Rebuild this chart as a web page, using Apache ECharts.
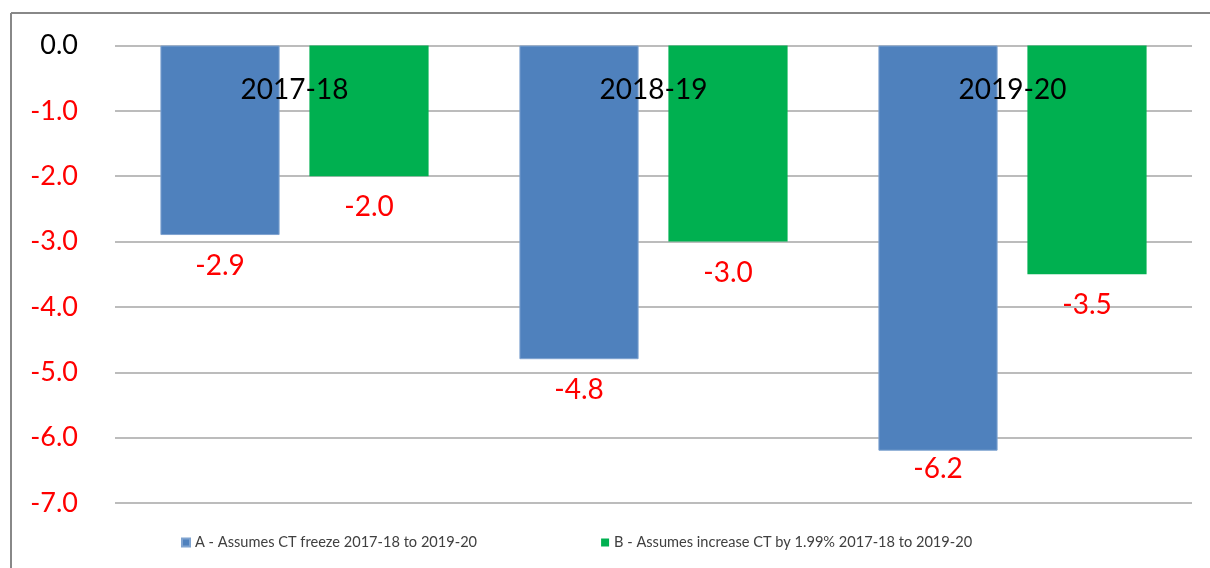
<!DOCTYPE html>
<html>
<head>
<meta charset="utf-8">
<script src="https://cdn.jsdelivr.net/npm/echarts@6/dist/echarts.min.js"></script>
<style>
	html, body { margin: 0; padding: 0; background: #fff; }
	#chart { width: 1210px; height: 568px; }
</style>
</head>
<body>
<div id="chart"></div>
<script>
// 数据
const years = ['2017-18', '2018-19', '2019-20'];
const freezeValues = [-2.9, -4.8, -6.2];
const increaseValues = [-2.0, -3.0, -3.5];
const seriesNames = [
	'A - Assumes CT freeze 2017-18 to 2019-20',
	'B - Assumes increase CT by 1.99% 2017-18 to 2019-20',
];

const FONT = 'Lato, "Open Sans", sans-serif';

const chart = echarts.init(document.getElementById('chart'));

// 数值标签样式
const valueLabel = {
	show: true,
	position: 'bottom',
	distance: 17,
	color: '#ff0000',
	fontSize: 28,
	fontFamily: FONT,
	formatter: (p) => p.value.toFixed(1),
};

const option = {
	backgroundColor: '#fff',
	animation: false,
	graphic: [
		{ type: 'line', shape: { x1: 11, y1: 13, x2: 1210, y2: 13 }, style: { stroke: '#888', lineWidth: 2 } },
		{ type: 'line', shape: { x1: 11, y1: 13, x2: 11, y2: 568 }, style: { stroke: '#888', lineWidth: 2 } },
	],
	grid: { left: 115, right: 18, top: 45.5, bottom: 65 },
	legend: {
		left: 176,
		top: 530,
		itemWidth: 8,
		itemHeight: 8,
		itemGap: 124,
		icon: 'rect',
		textStyle: { fontFamily: FONT, fontSize: 14.6, color: '#404040' },
		data: seriesNames,
	},
	xAxis: {
		type: 'category',
		data: years,
		position: 'top',
		z: 10,
		axisLine: { show: false },
		axisTick: { show: false },
		axisLabel: {
			inside: true,
			margin: 30,
			color: '#000',
			fontSize: 28,
			fontFamily: FONT,
		},
	},
	yAxis: {
		type: 'value',
		min: -7,
		max: 0,
		interval: 1,
		axisLine: { show: false },
		axisTick: { show: false },
		axisLabel: {
			margin: 37,
			fontSize: 27,
			fontFamily: FONT,
			color: (value) => (Number(value) === 0 ? '#000' : '#ff0000'),
			formatter: (value) => value.toFixed(1),
		},
		splitLine: { lineStyle: { color: '#a6a6a6', width: 1.5 } },
	},
	series: [
		{
			name: seriesNames[0],
			type: 'bar',
			data: freezeValues.map((v, i) =>
				// 最后一个标签离柱子更近
				i === 2 ? { value: v, label: { distance: 4 } } : v
			),
			barGap: '25%',
			barCategoryGap: '25.3%',
			itemStyle: { color: '#4f81bd', borderColor: '#7fa3d0', borderWidth: 1 },
			label: valueLabel,
		},
		{
			name: seriesNames[1],
			type: 'bar',
			data: increaseValues,
			itemStyle: { color: '#00b050' },
			label: valueLabel,
		},
	],
};

chart.setOption(option);
</script>
</body>
</html>
